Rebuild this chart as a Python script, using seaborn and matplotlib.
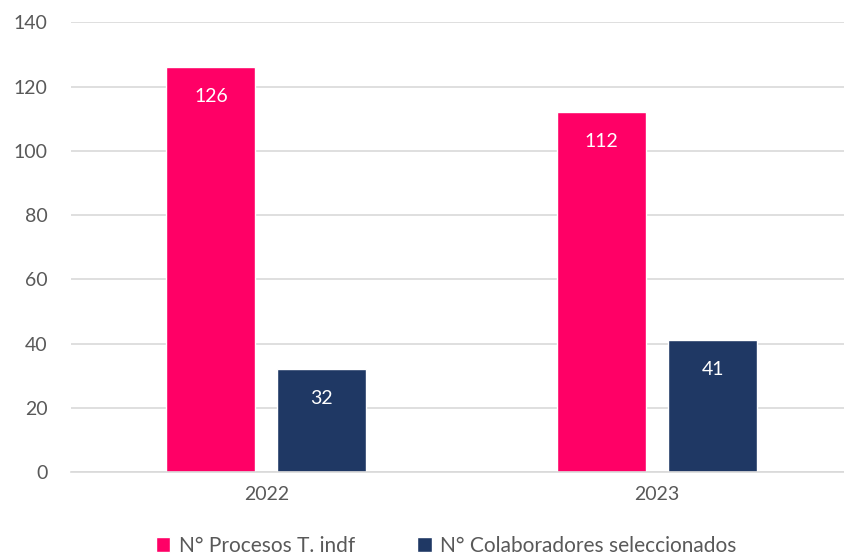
import matplotlib
matplotlib.use("Agg")
import matplotlib.pyplot as plt
import pandas as pd
import seaborn as sns
from matplotlib.patches import Patch

years = ["2022", "2023"]
series_names = ["N° Procesos T. indf", "N° Colaboradores seleccionados"]
procesos = [126, 112]
colaboradores = [32, 41]
y_ticks = [0, 20, 40, 60, 80, 100, 120, 140]

PINK = "#FF0066"
NAVY = "#1F3864"
TEXT = "#595959"
FS = 14

df = pd.DataFrame({
    "year": years * 2,
    "serie": [series_names[0]] * 2 + [series_names[1]] * 2,
    "value": procesos + colaboradores,
})

sns.set_style("white")
plt.rcParams['font.family'] = ['Lato', 'DejaVu Sans']

fig = plt.figure(figsize=(8.45, 5.58), dpi=100)
ax = fig.add_axes([0.084, 0.154, 0.925, 0.806])

sns.barplot(data=df, x="year", y="value", hue="serie", palette=[PINK, NAVY],
            width=0.568, gap=0.2, ax=ax, legend=False, saturation=1)

for cont in ax.containers:
    for bar in cont:
        h = bar.get_height()
        ax.text(bar.get_x() + bar.get_width() / 2, h - 9, f"{h:.0f}",
                ha='center', va='center', color='white', fontsize=FS)

ax.set_ylim(0, 140)
ax.set_yticks(y_ticks)
ax.set_xlim(-0.5, 1.5)
ax.yaxis.grid(True, color="#D9D9D9", linewidth=1.2)
ax.set_axisbelow(True)
for s in ["top", "right", "left"]:
    ax.spines[s].set_visible(False)
ax.spines["bottom"].set_color("#D9D9D9")
ax.spines["bottom"].set_linewidth(1.2)
ax.set_xlabel("")
ax.set_ylabel("")
ax.tick_params(axis='both', length=0, labelsize=FS, labelcolor=TEXT)
ax.tick_params(axis='y', pad=17)
ax.tick_params(axis='x', pad=10)

handles = [Patch(facecolor=PINK, label=series_names[0]),
           Patch(facecolor=NAVY, label=series_names[1])]
fig.legend(handles=handles, loc='center', bbox_to_anchor=(0.528, 0.022), ncol=2,
           frameon=False, fontsize=15, labelcolor=TEXT, handlelength=0.7,
           handleheight=0.7, handletextpad=0.4, columnspacing=3.0)

fig.savefig("out.png", dpi=100)
